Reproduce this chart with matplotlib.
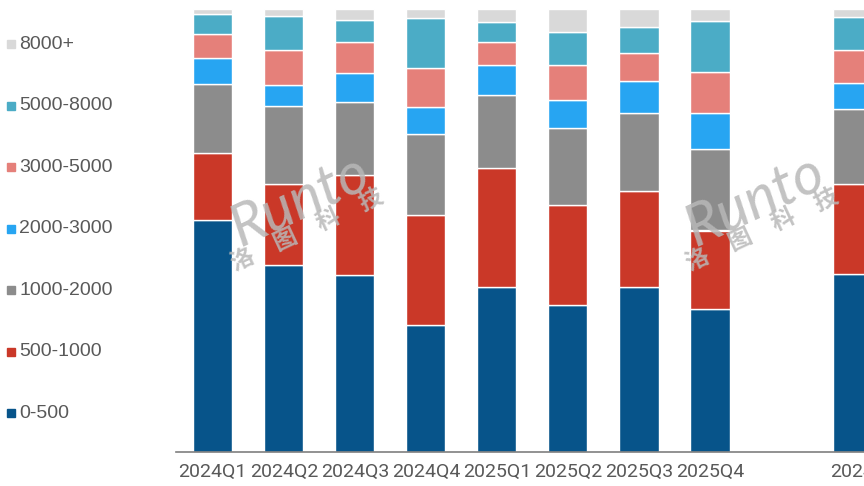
import matplotlib
matplotlib.use('Agg')
import matplotlib.pyplot as plt
import matplotlib.patches as mpatches
import numpy as np

# 价格段占比 (%), 从下到上
categories = ['2024Q1', '2024Q2', '2024Q3', '2024Q4', '2025Q1', '2025Q2', '2025Q3', '2025Q4', '2024']
series = ['0-500', '500-1000', '1000-2000', '2000-3000', '3000-5000', '5000-8000', '8000+']

s_0_500 = [52.4, 42.2, 39.9, 28.6, 37.2, 33.1, 37.2, 32.3, 40.2]
s_500_1000 = [15.0, 18.2, 22.6, 24.9, 27.0, 22.7, 21.8, 17.7, 20.3]
s_1000_2000 = [15.7, 17.7, 16.5, 18.3, 16.3, 17.4, 17.5, 18.4, 17.0]
s_2000_3000 = [5.8, 4.7, 6.5, 6.0, 6.9, 6.3, 7.2, 8.2, 5.9]
s_3000_5000 = [5.5, 7.9, 7.1, 8.8, 5.1, 7.8, 6.4, 9.1, 7.4]
s_5000_8000 = [4.5, 7.7, 5.0, 11.4, 4.5, 7.6, 5.8, 11.6, 7.4]
s_8000 = [1.1, 1.6, 2.4, 2.0, 3.0, 5.1, 4.1, 2.7, 1.8]

valores = [s_0_500, s_500_1000, s_1000_2000, s_2000_3000, s_3000_5000, s_5000_8000, s_8000]
cores = ['#07548A', '#CA3828', '#8C8C8C', '#27A5F2', '#E5807A', '#4BACC6', '#D9D9D9']

plt.rcParams['font.family'] = ['Liberation Sans', 'DejaVu Sans']

fig = plt.figure(figsize=(8.64, 4.86), dpi=100)
ax = fig.add_axes([176 / 864, 1 - 452 / 486, 1 - 176 / 864, 443 / 486])

# posição: o ano completo fica separado por uma coluna vazia
x = np.arange(len(categories), dtype=float)
x[-1] += 1

base = np.zeros(len(categories))
for nome, vals, cor in zip(series, valores, cores):
    vals = np.array(vals)
    ax.bar(x, vals, width=0.55, bottom=base, color=cor, edgecolor='white', linewidth=1.0)
    base += vals

ax.set_xlim(-0.518, 9.168)
ax.set_ylim(0, 100)
ax.set_xticks(x)
ax.set_xticklabels(categories, fontsize=14, color='#595959', family=['Roboto', 'DejaVu Sans'])
ax.tick_params(axis='x', length=0, pad=8)
ax.set_yticks([])
for lado in ['top', 'left', 'right']:
    ax.spines[lado].set_visible(False)
ax.spines['bottom'].set_color('#7F7F7F')
ax.spines['bottom'].set_linewidth(1.2)

# legenda manual à esquerda (ordem invertida)
y0 = 1 - 44.5 / 486
passo = 61.45 / 486
for i, (nome, cor) in enumerate(zip(series[::-1], cores[::-1])):
    yy = y0 - i * passo
    fig.add_artist(mpatches.Rectangle((6.7 / 864, yy - 4 / 486), 8 / 864, 8 / 486,
                                      transform=fig.transFigure, color=cor))
    fig.text(19.5 / 864, yy, nome, fontsize=14, color='#595959', va='center', ha='left')

# marca d'água
for cx in [300, 755]:
    fig.text(cx / 864, 1 - 201 / 486, 'Runto', fontsize=42, style='italic',
             color='#B8B8B8', alpha=0.85, rotation=25, ha='center', va='center',
             rotation_mode='anchor', family=['Lato', 'DejaVu Sans'], zorder=10)
    fig.text((cx + 7) / 864, 1 - 230 / 486, '洛\u3000图\u3000科\u3000技', fontsize=17, fontweight='bold',
             color='#B8B8B8', alpha=0.85, rotation=25, ha='center', va='center',
             rotation_mode='anchor', family=['Noto Sans CJK SC', 'DejaVu Sans'], zorder=10)

fig.savefig('out.png', dpi=100)
